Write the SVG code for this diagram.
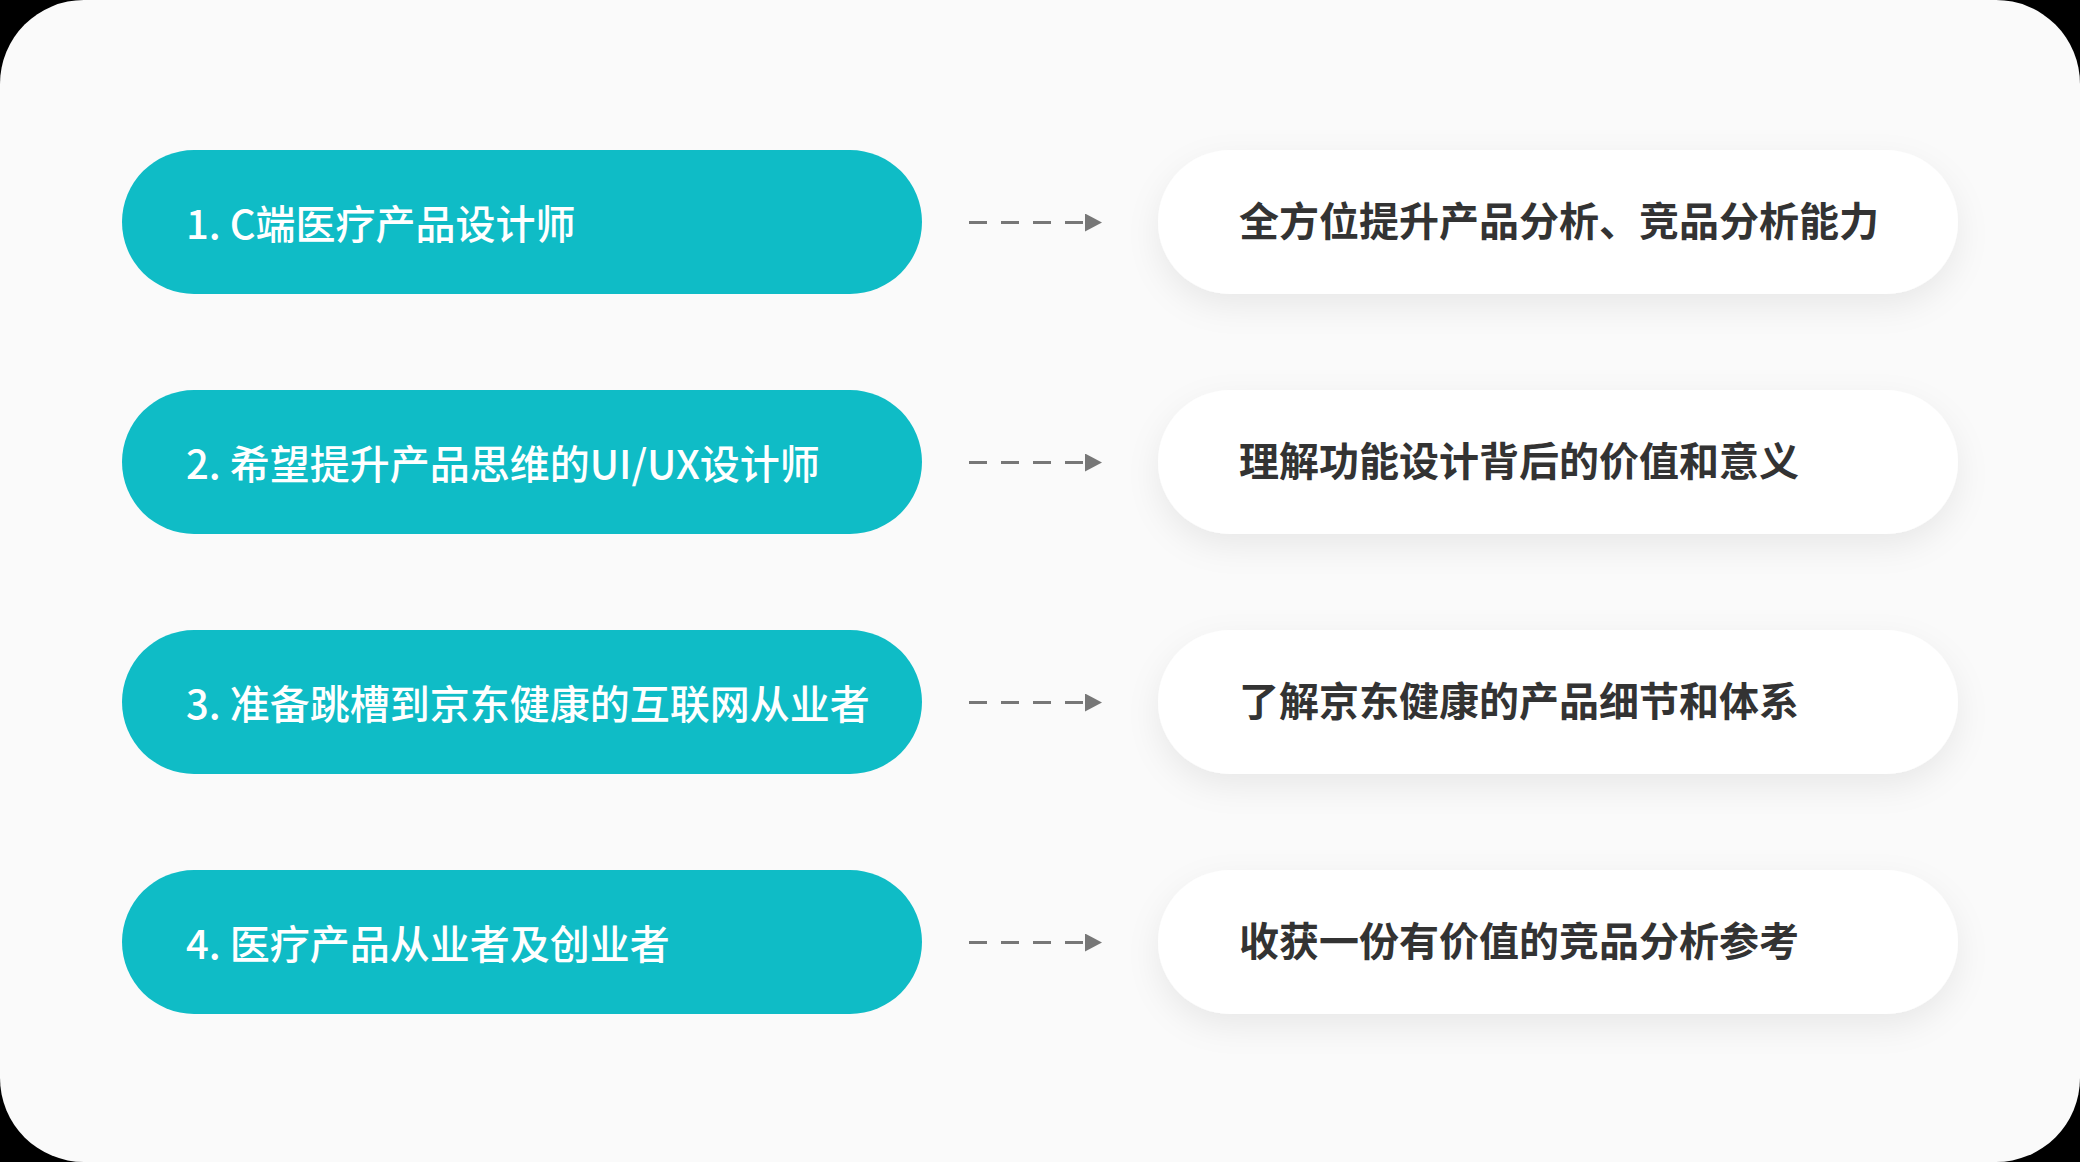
<svg xmlns="http://www.w3.org/2000/svg" width="2080" height="1162" viewBox="0 0 2080 1162">
<style>
.lp{fill:#0fbcc6}
.rp{fill:#ffffff;filter:url(#sh)}
.lt{font-family:"Noto Sans CJK SC","Noto Sans",sans-serif;font-size:40px;font-weight:500;fill:#ffffff}
.rt{font-family:"Noto Sans CJK SC","Noto Sans",sans-serif;font-size:40px;font-weight:700;fill:#333333}
.dash{stroke:#777777;stroke-width:3;stroke-dasharray:18 14;fill:none}
</style>
<defs>
<filter id="sh" x="-10%" y="-40%" width="120%" height="190%">
<feDropShadow dx="0" dy="12" stdDeviation="16" flood-color="#000000" flood-opacity="0.07"/>
</filter>
<marker id="ah" markerWidth="17" markerHeight="18" refX="0" refY="9" orient="auto" markerUnits="userSpaceOnUse">
<path d="M0,0 L17,9 L0,18 Z" fill="#777777"/>
</marker>
</defs>
<rect x="0" y="0" width="2080" height="1162" fill="#000000"/>
<rect x="0" y="0" width="2080" height="1162" rx="84" ry="84" fill="#fafafa"/>
<g id="connectors">
<path class="dash" d="M969,222.5 L1085,222.5" marker-end="url(#ah)"/>
<path class="dash" d="M969,462.5 L1085,462.5" marker-end="url(#ah)"/>
<path class="dash" d="M969,702.5 L1085,702.5" marker-end="url(#ah)"/>
<path class="dash" d="M969,942.5 L1085,942.5" marker-end="url(#ah)"/>
</g>
<g id="left1"><rect class="lp" x="122" y="150" width="800" height="144" rx="72"/><text class="lt" x="186" y="239">1. C端医疗产品设计师</text></g>
<g id="left2"><rect class="lp" x="122" y="390" width="800" height="144" rx="72"/><text class="lt" x="186" y="479">2. 希望提升产品思维的UI/UX设计师</text></g>
<g id="left3"><rect class="lp" x="122" y="630" width="800" height="144" rx="72"/><text class="lt" x="186" y="719">3. 准备跳槽到京东健康的互联网从业者</text></g>
<g id="left4"><rect class="lp" x="122" y="870" width="800" height="144" rx="72"/><text class="lt" x="186" y="959">4. 医疗产品从业者及创业者</text></g>
<g id="right1"><rect class="rp" x="1158" y="150" width="800" height="144" rx="72"/><text class="rt" x="1239" y="236">全方位提升产品分析、竞品分析能力</text></g>
<g id="right2"><rect class="rp" x="1158" y="390" width="800" height="144" rx="72"/><text class="rt" x="1239" y="476">理解功能设计背后的价值和意义</text></g>
<g id="right3"><rect class="rp" x="1158" y="630" width="800" height="144" rx="72"/><text class="rt" x="1239" y="716">了解京东健康的产品细节和体系</text></g>
<g id="right4"><rect class="rp" x="1158" y="870" width="800" height="144" rx="72"/><text class="rt" x="1239" y="956">收获一份有价值的竞品分析参考</text></g>
</svg>
